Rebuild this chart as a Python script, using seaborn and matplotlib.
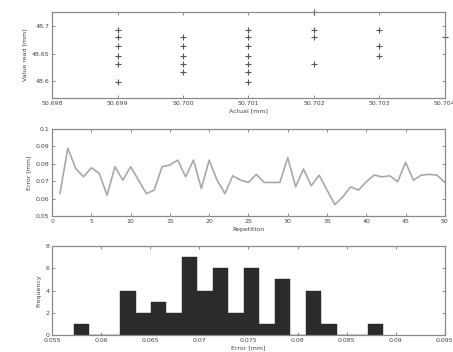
import numpy as np
import pandas as pd
import matplotlib
matplotlib.use("Agg")
import matplotlib.pyplot as plt
import seaborn as sns

# ---------------- data ----------------
actual = ([50.699] * 6 + [50.700] * 5 + [50.701] * 7 + [50.702] * 4
          + [50.703] * 3 + [50.704] * 1)
value_read = [48.693, 48.679, 48.663, 48.646, 48.632, 48.598,
              48.679, 48.663, 48.646, 48.632, 48.616,
              48.693, 48.679, 48.663, 48.646, 48.632, 48.616, 48.598,
              48.725, 48.693, 48.679, 48.632,
              48.693, 48.663, 48.646,
              48.679]
top_xticks = [50.698, 50.699, 50.700, 50.701, 50.702, 50.703, 50.704]
top_xticklabels = ["50.698", "50.699", "50.700", "50.701", "50.702", "50.703", "50.704"]
top_yticks = [48.6, 48.65, 48.7]
top_yticklabels = ["48.6", "48.65", "48.7"]

repetition = list(range(1, 51))
error = [0.0629, 0.0889, 0.0773, 0.0725, 0.0777, 0.0745, 0.0620, 0.0783, 0.0706, 0.0783,
         0.0706, 0.0629, 0.0649, 0.0783, 0.0793, 0.0821, 0.0725, 0.0821, 0.0658, 0.0821,
         0.0706, 0.0629, 0.0731, 0.0706, 0.0693, 0.0739, 0.0693, 0.0693, 0.0693, 0.0835,
         0.0668, 0.0770, 0.0674, 0.0735, 0.0649, 0.0566, 0.0610, 0.0668, 0.0649, 0.0697,
         0.0735, 0.0725, 0.0731, 0.0697, 0.0808, 0.0706, 0.0735, 0.0739, 0.0735, 0.0693]
mid_xticks = [0, 5, 10, 15, 20, 25, 30, 35, 40, 45, 50]
mid_yticks = [0.05, 0.06, 0.07, 0.08, 0.09, 0.1]
mid_yticklabels = ["0.05", "0.06", "0.07", "0.08", "0.09", "0.1"]

hist_lo, hist_hi = 0.0572, 0.0887
hist_counts = [1, 0, 0, 4, 2, 3, 2, 7, 4, 6, 2, 6, 1, 5, 0, 4, 1, 0, 0, 1]
bot_xticks = [0.055, 0.06, 0.065, 0.07, 0.075, 0.08, 0.085, 0.09, 0.095]
bot_xticklabels = ["0.055", "0.06", "0.065", "0.07", "0.075", "0.08", "0.085", "0.09", "0.095"]
bot_yticks = [0, 2, 4, 6, 8]

# ---------------- style ----------------
sns.set_style("ticks")
plt.rcParams.update({
    "font.family": ["DejaVu Sans"],
    "font.size": 4.5,
    "axes.edgecolor": "#8a8a8a",
    "axes.linewidth": 0.9,
    "axes.labelcolor": "#444444",
    "xtick.color": "#8a8a8a",
    "ytick.color": "#8a8a8a",
    "xtick.labelcolor": "#444444",
    "ytick.labelcolor": "#444444",
    "xtick.direction": "in",
    "ytick.direction": "in",
    "xtick.top": True,
    "ytick.right": True,
    "xtick.major.size": 2.5,
    "ytick.major.size": 2.5,
    "xtick.major.width": 0.7,
    "ytick.major.width": 0.7,
    "xtick.labelsize": 4.5,
    "ytick.labelsize": 4.5,
    "axes.labelsize": 4.5,
})

fig = plt.figure(figsize=(4.53, 3.52), dpi=100)
L, W = 0.115, 0.867
ax1 = fig.add_axes([L, 0.722, W, 0.244])
ax2 = fig.add_axes([L, 0.386, W, 0.248])
ax3 = fig.add_axes([L, 0.048, W, 0.253])

# top: scatter
df1 = pd.DataFrame({"actual": actual, "read": value_read})
sns.scatterplot(data=df1, x="actual", y="read", marker="+", color="#555555",
                s=18, linewidth=0.8, ax=ax1, clip_on=False, legend=False)
ax1.set_xlim(top_xticks[0], top_xticks[-1])
ax1.set_ylim(48.57, 48.725)
ax1.set_xticks(top_xticks)
ax1.set_xticklabels(top_xticklabels)
ax1.set_yticks(top_yticks)
ax1.set_yticklabels(top_yticklabels)
ax1.set_xlabel("Actual [mm]", labelpad=2)
ax1.set_ylabel("Value read [mm]", labelpad=3)

# middle: line
df2 = pd.DataFrame({"rep": repetition, "err": error})
sns.lineplot(data=df2, x="rep", y="err", color="#a8a8a8", linewidth=1.2, ax=ax2)
ax2.set_xlim(0, 50)
ax2.set_ylim(0.05, 0.1)
ax2.set_xticks(mid_xticks)
ax2.set_yticks(mid_yticks)
ax2.set_yticklabels(mid_yticklabels)
ax2.set_xlabel("Repetition", labelpad=2)
ax2.set_ylabel("Error [mm]", labelpad=3)

# bottom: histogram
edges = np.linspace(hist_lo, hist_hi, len(hist_counts) + 1)
centers = (edges[:-1] + edges[1:]) / 2
df3 = pd.DataFrame({"err": np.repeat(centers, hist_counts)})
sns.histplot(data=df3, x="err", bins=list(edges), color="#2b2b2b",
             edgecolor="#2b2b2b", linewidth=0.3, alpha=1.0, ax=ax3)
ax3.set_xlim(bot_xticks[0], bot_xticks[-1])
ax3.set_ylim(0, 8)
ax3.set_xticks(bot_xticks)
ax3.set_xticklabels(bot_xticklabels)
ax3.set_yticks(bot_yticks)
ax3.set_xlabel("Error [mm]", labelpad=2)
ax3.set_ylabel("Frequency", labelpad=3)

for ax in (ax1, ax2, ax3):
    for s in ax.spines.values():
        s.set_visible(True)
    ax.tick_params(pad=2)

fig.savefig("out.png", dpi=100, facecolor="white")
